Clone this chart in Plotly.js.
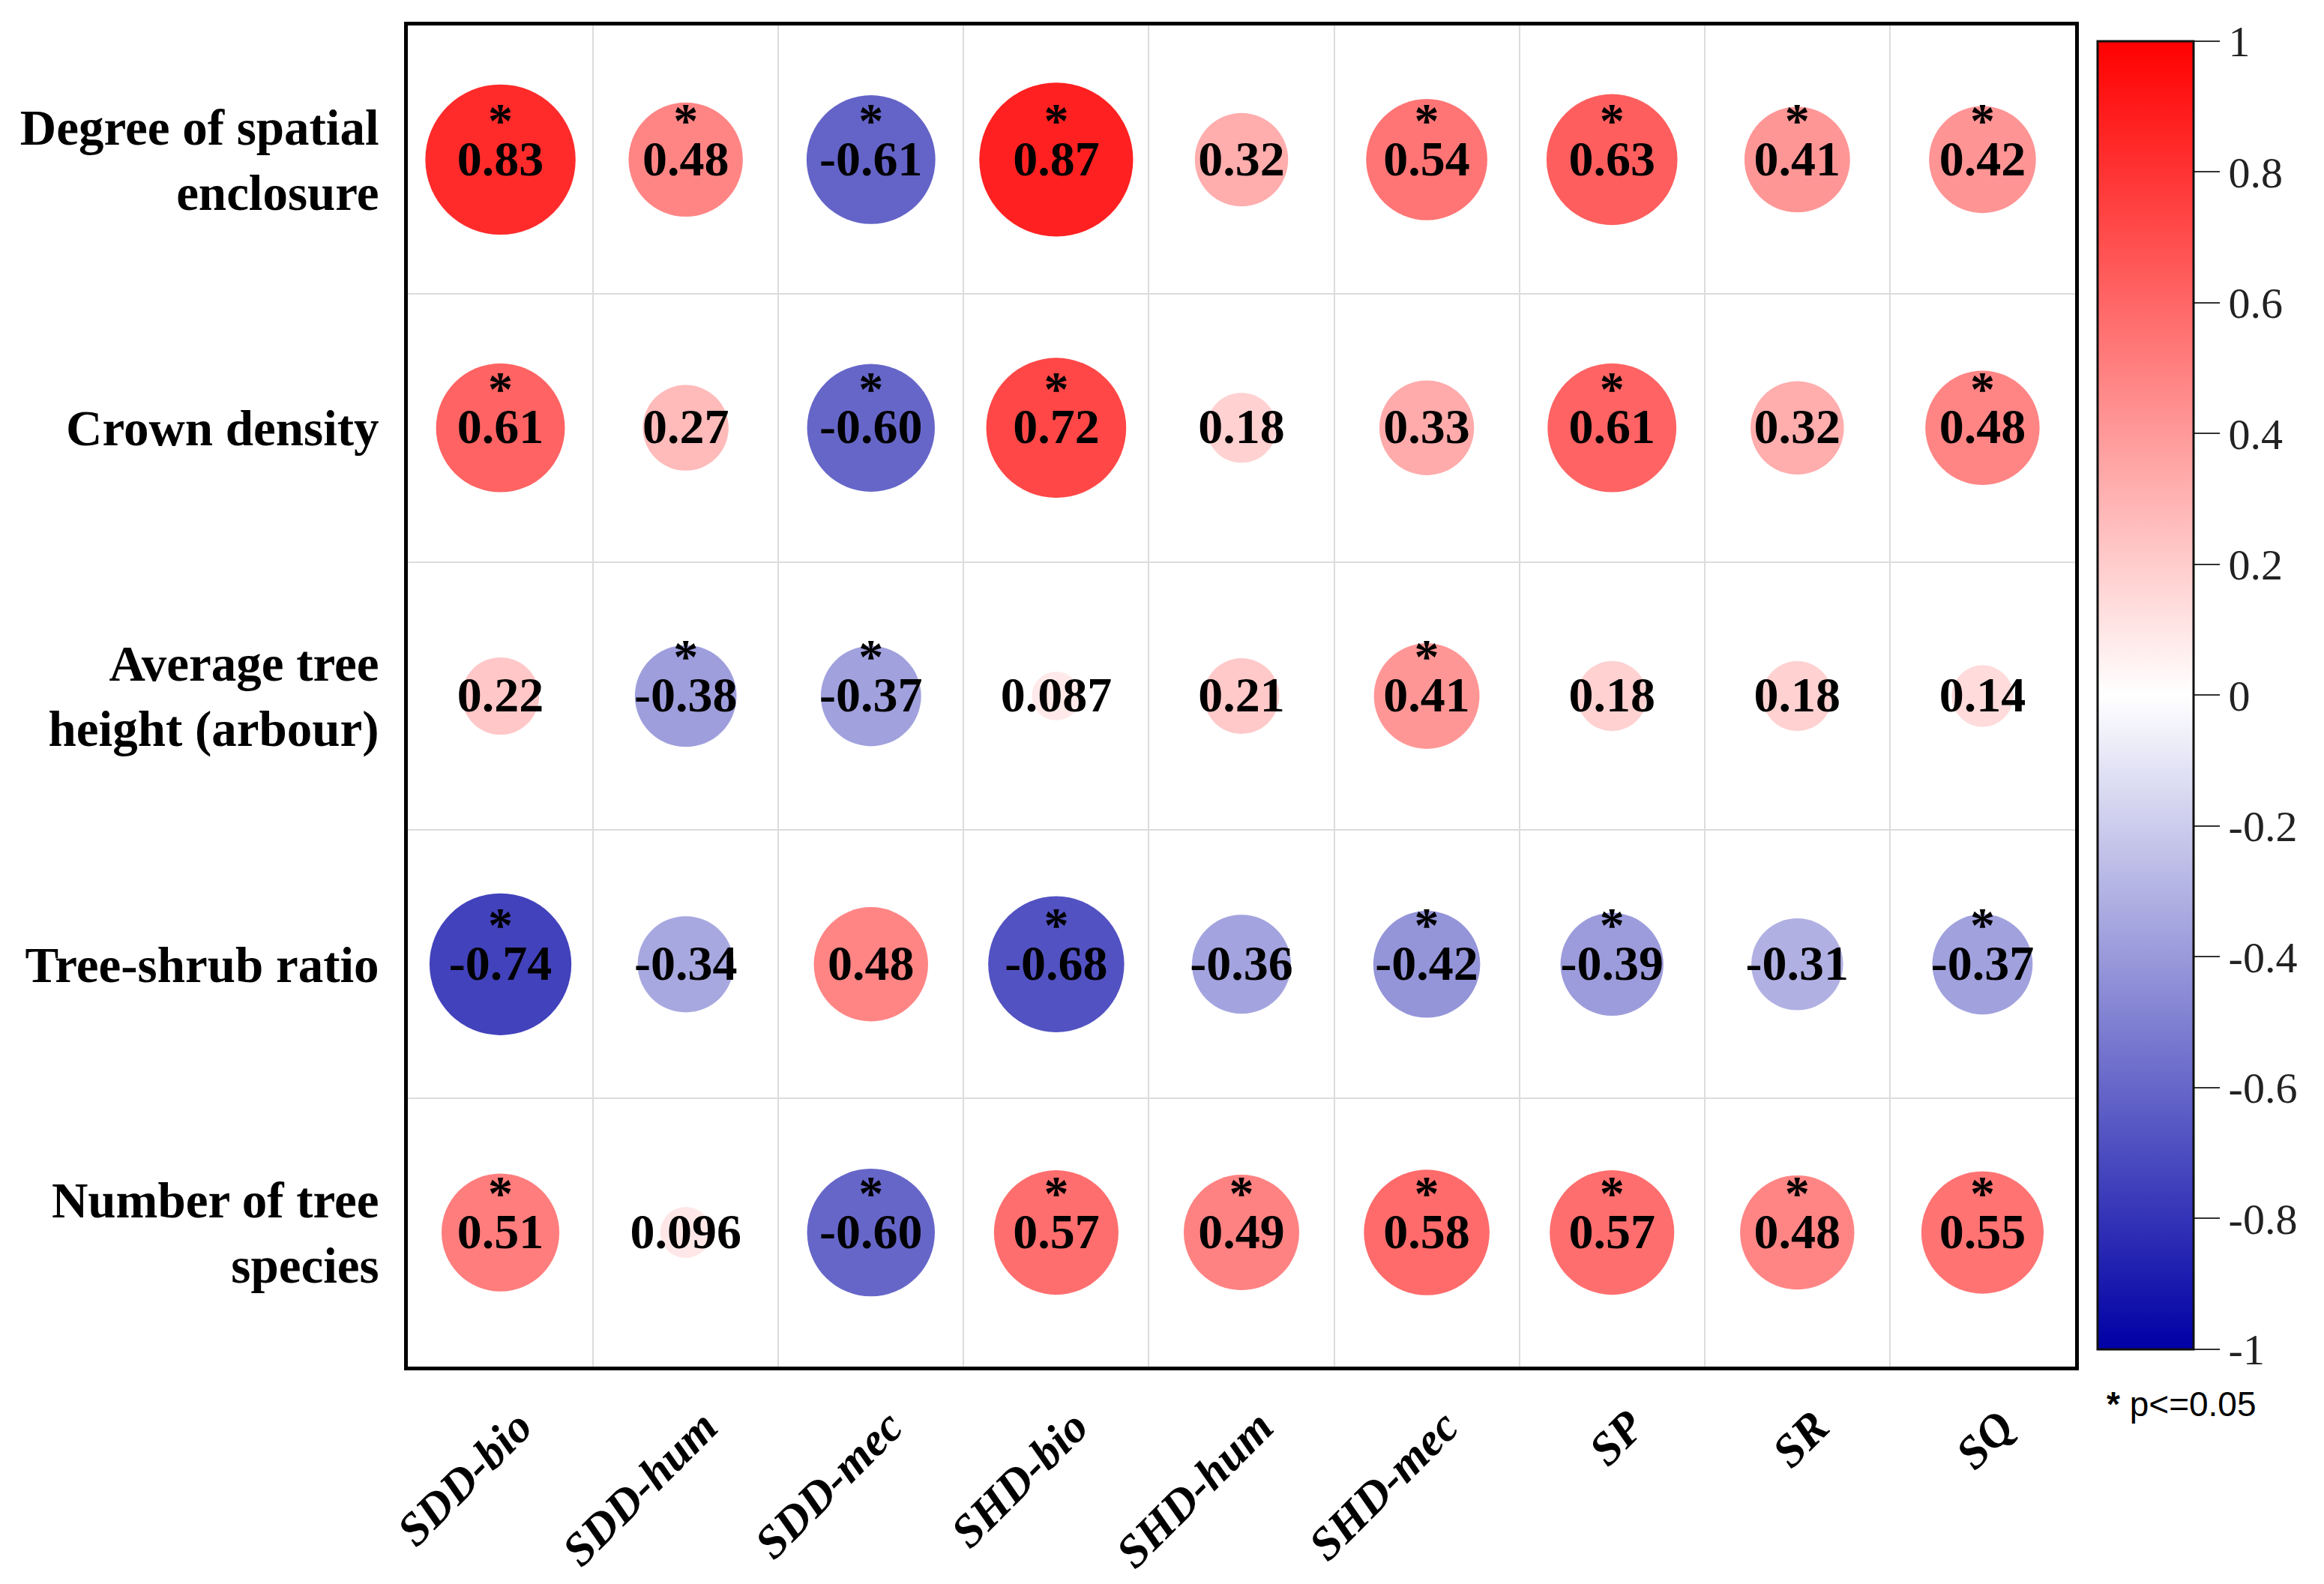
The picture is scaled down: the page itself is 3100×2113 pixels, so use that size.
<!DOCTYPE html>
<html>
<head>
<meta charset="utf-8">
<script src="https://cdn.plot.ly/plotly-3.0.1.min.js"></script>
<style>
  html, body { margin: 0; padding: 0; background: #fff; }
  #chart { width: 3100px; height: 2113px; }
</style>
</head>
<body>
<div id="chart"></div>
<script>
// ---- data ----
const colLabels = ["SDD-bio", "SDD-hum", "SDD-mec", "SHD-bio", "SHD-hum", "SHD-mec", "SP", "SR", "SQ"];
const rowLabels = ["Degree of spatial<br>enclosure", "Crown density", "Average tree<br>height (arbour)", "Tree-shrub ratio", "Number of tree<br>species"];

const rEnclosure   = [0.83, 0.48, -0.61, 0.87, 0.32, 0.54, 0.63, 0.41, 0.42];
const rCrown       = [0.61, 0.27, -0.60, 0.72, 0.18, 0.33, 0.61, 0.32, 0.48];
const rTreeHeight  = [0.22, -0.38, -0.37, 0.087, 0.21, 0.41, 0.18, 0.18, 0.14];
const rTreeShrub   = [-0.74, -0.34, 0.48, -0.68, -0.36, -0.42, -0.39, -0.31, -0.37];
const rTreeSpecies = [0.51, 0.096, -0.60, 0.57, 0.49, 0.58, 0.57, 0.48, 0.55];

const sigEnclosure   = [1, 1, 1, 1, 0, 1, 1, 1, 1];
const sigCrown       = [1, 0, 1, 1, 0, 0, 1, 0, 1];
const sigTreeHeight  = [0, 1, 1, 0, 0, 1, 0, 0, 0];
const sigTreeShrub   = [1, 0, 0, 1, 0, 1, 1, 0, 1];
const sigTreeSpecies = [1, 0, 1, 1, 1, 1, 1, 1, 1];

const cbTickVals = [-1, -0.8, -0.6, -0.4, -0.2, 0, 0.2, 0.4, 0.6, 0.8, 1];
const cbTickText = ["-1", "-0.8", "-0.6", "-0.4", "-0.2", "0", "0.2", "0.4", "0.6", "0.8", "1"];

// ---- build ----
const rows = [rEnclosure, rCrown, rTreeHeight, rTreeShrub, rTreeSpecies];
const sigs = [sigEnclosure, sigCrown, sigTreeHeight, sigTreeShrub, sigTreeSpecies];

const xs = [], ys = [], vals = [], sizes = [], labels = [];
const tx = [], ty = [];
const sx = [], sy = [];
rows.forEach((row, i) => {
  row.forEach((v, j) => {
    xs.push(j); ys.push(i); vals.push(v);
    sizes.push(220 * Math.sqrt(Math.abs(v)));
    labels.push(v.toPrecision(2));
    tx.push(j); ty.push(i + 0.012);
    if (sigs[i][j]) { sx.push(j); sy.push(i - 0.13); }
  });
});

const serif = "Liberation Serif, Times New Roman, serif";

const circles = {
  type: "scatter", mode: "markers", x: xs, y: ys, hoverinfo: "skip",
  marker: {
    size: sizes, sizemode: "diameter", color: vals, cmin: -1, cmax: 1,
    colorscale: [[0, "rgb(0,0,165)"], [0.5, "rgb(255,255,255)"], [1, "rgb(255,0,0)"]],
    line: { width: 0 }, opacity: 1,
    showscale: true,
    colorbar: {
      x: 1.0135, xanchor: "left", xref: "paper",
      y: 0.5006, yanchor: "middle",
      thicknessmode: "pixels", thickness: 128,
      lenmode: "pixels", len: 1745,
      outlinewidth: 3, outlinecolor: "#111",
      xpad: 0, ypad: 0,
      tickmode: "array", tickvals: cbTickVals, ticktext: cbTickText,
      ticks: "outside", ticklen: 34, tickwidth: 2, tickcolor: "#333",
      tickfont: { family: serif, size: 58, color: "#222" }
    }
  },
  showlegend: false
};

const numbers = {
  type: "scatter", mode: "text", x: tx, y: ty, text: labels, hoverinfo: "skip",
  textposition: "middle center",
  textfont: { family: serif, size: 66, color: "#000", weight: "bold" },
  showlegend: false
};

const stars = {
  type: "scatter", mode: "text", x: sx, y: sy, text: sx.map(() => "*"), hoverinfo: "skip",
  textposition: "middle center",
  textfont: { family: serif, size: 66, color: "#000", weight: "bold" },
  showlegend: false
};

const layout = {
  width: 3100, height: 2113,
  paper_bgcolor: "#fff", plot_bgcolor: "#fff",
  margin: { l: 544, r: 332, t: 34, b: 290, pad: 0 },
  xaxis: {
    range: [-0.5, 8.5], fixedrange: true, zeroline: false,
    tickmode: "array", tickvals: colLabels.map((_, j) => j), ticktext: colLabels,
    tickangle: -45, ticks: "", ticklabelstandoff: 14, ticklabelshift: 24,
    tickfont: { family: serif, size: 62, color: "#000", weight: "bold", style: "italic" },
    showgrid: false,
    minor: { tick0: 0.5, dtick: 1, showgrid: true, gridcolor: "#dcdcdc", gridwidth: 2, ticks: "" },
    showline: true, linecolor: "#000", linewidth: 5, mirror: true
  },
  yaxis: {
    range: [4.5, -0.5], fixedrange: true, zeroline: false,
    tickmode: "array", tickvals: rowLabels.map((_, i) => i), ticktext: rowLabels,
    ticks: "", ticklabelstandoff: 20,
    tickfont: { family: serif, size: 67, color: "#000", weight: "bold" },
    showgrid: false,
    minor: { tick0: 0.5, dtick: 1, showgrid: true, gridcolor: "#dcdcdc", gridwidth: 2, ticks: "" },
    showline: true, linecolor: "#000", linewidth: 5, mirror: true
  },
  annotations: [{
    xref: "paper", yref: "paper", x: 1.018, y: -0.028, xanchor: "left", yanchor: "middle",
    text: "<b>*</b> p&lt;=0.05", showarrow: false,
    font: { family: "Liberation Sans, Arial, sans-serif", size: 46, color: "#000" }
  }]
};

Plotly.newPlot("chart", [circles, numbers, stars], layout, { staticPlot: true, displayModeBar: false });
</script>
</body>
</html>
